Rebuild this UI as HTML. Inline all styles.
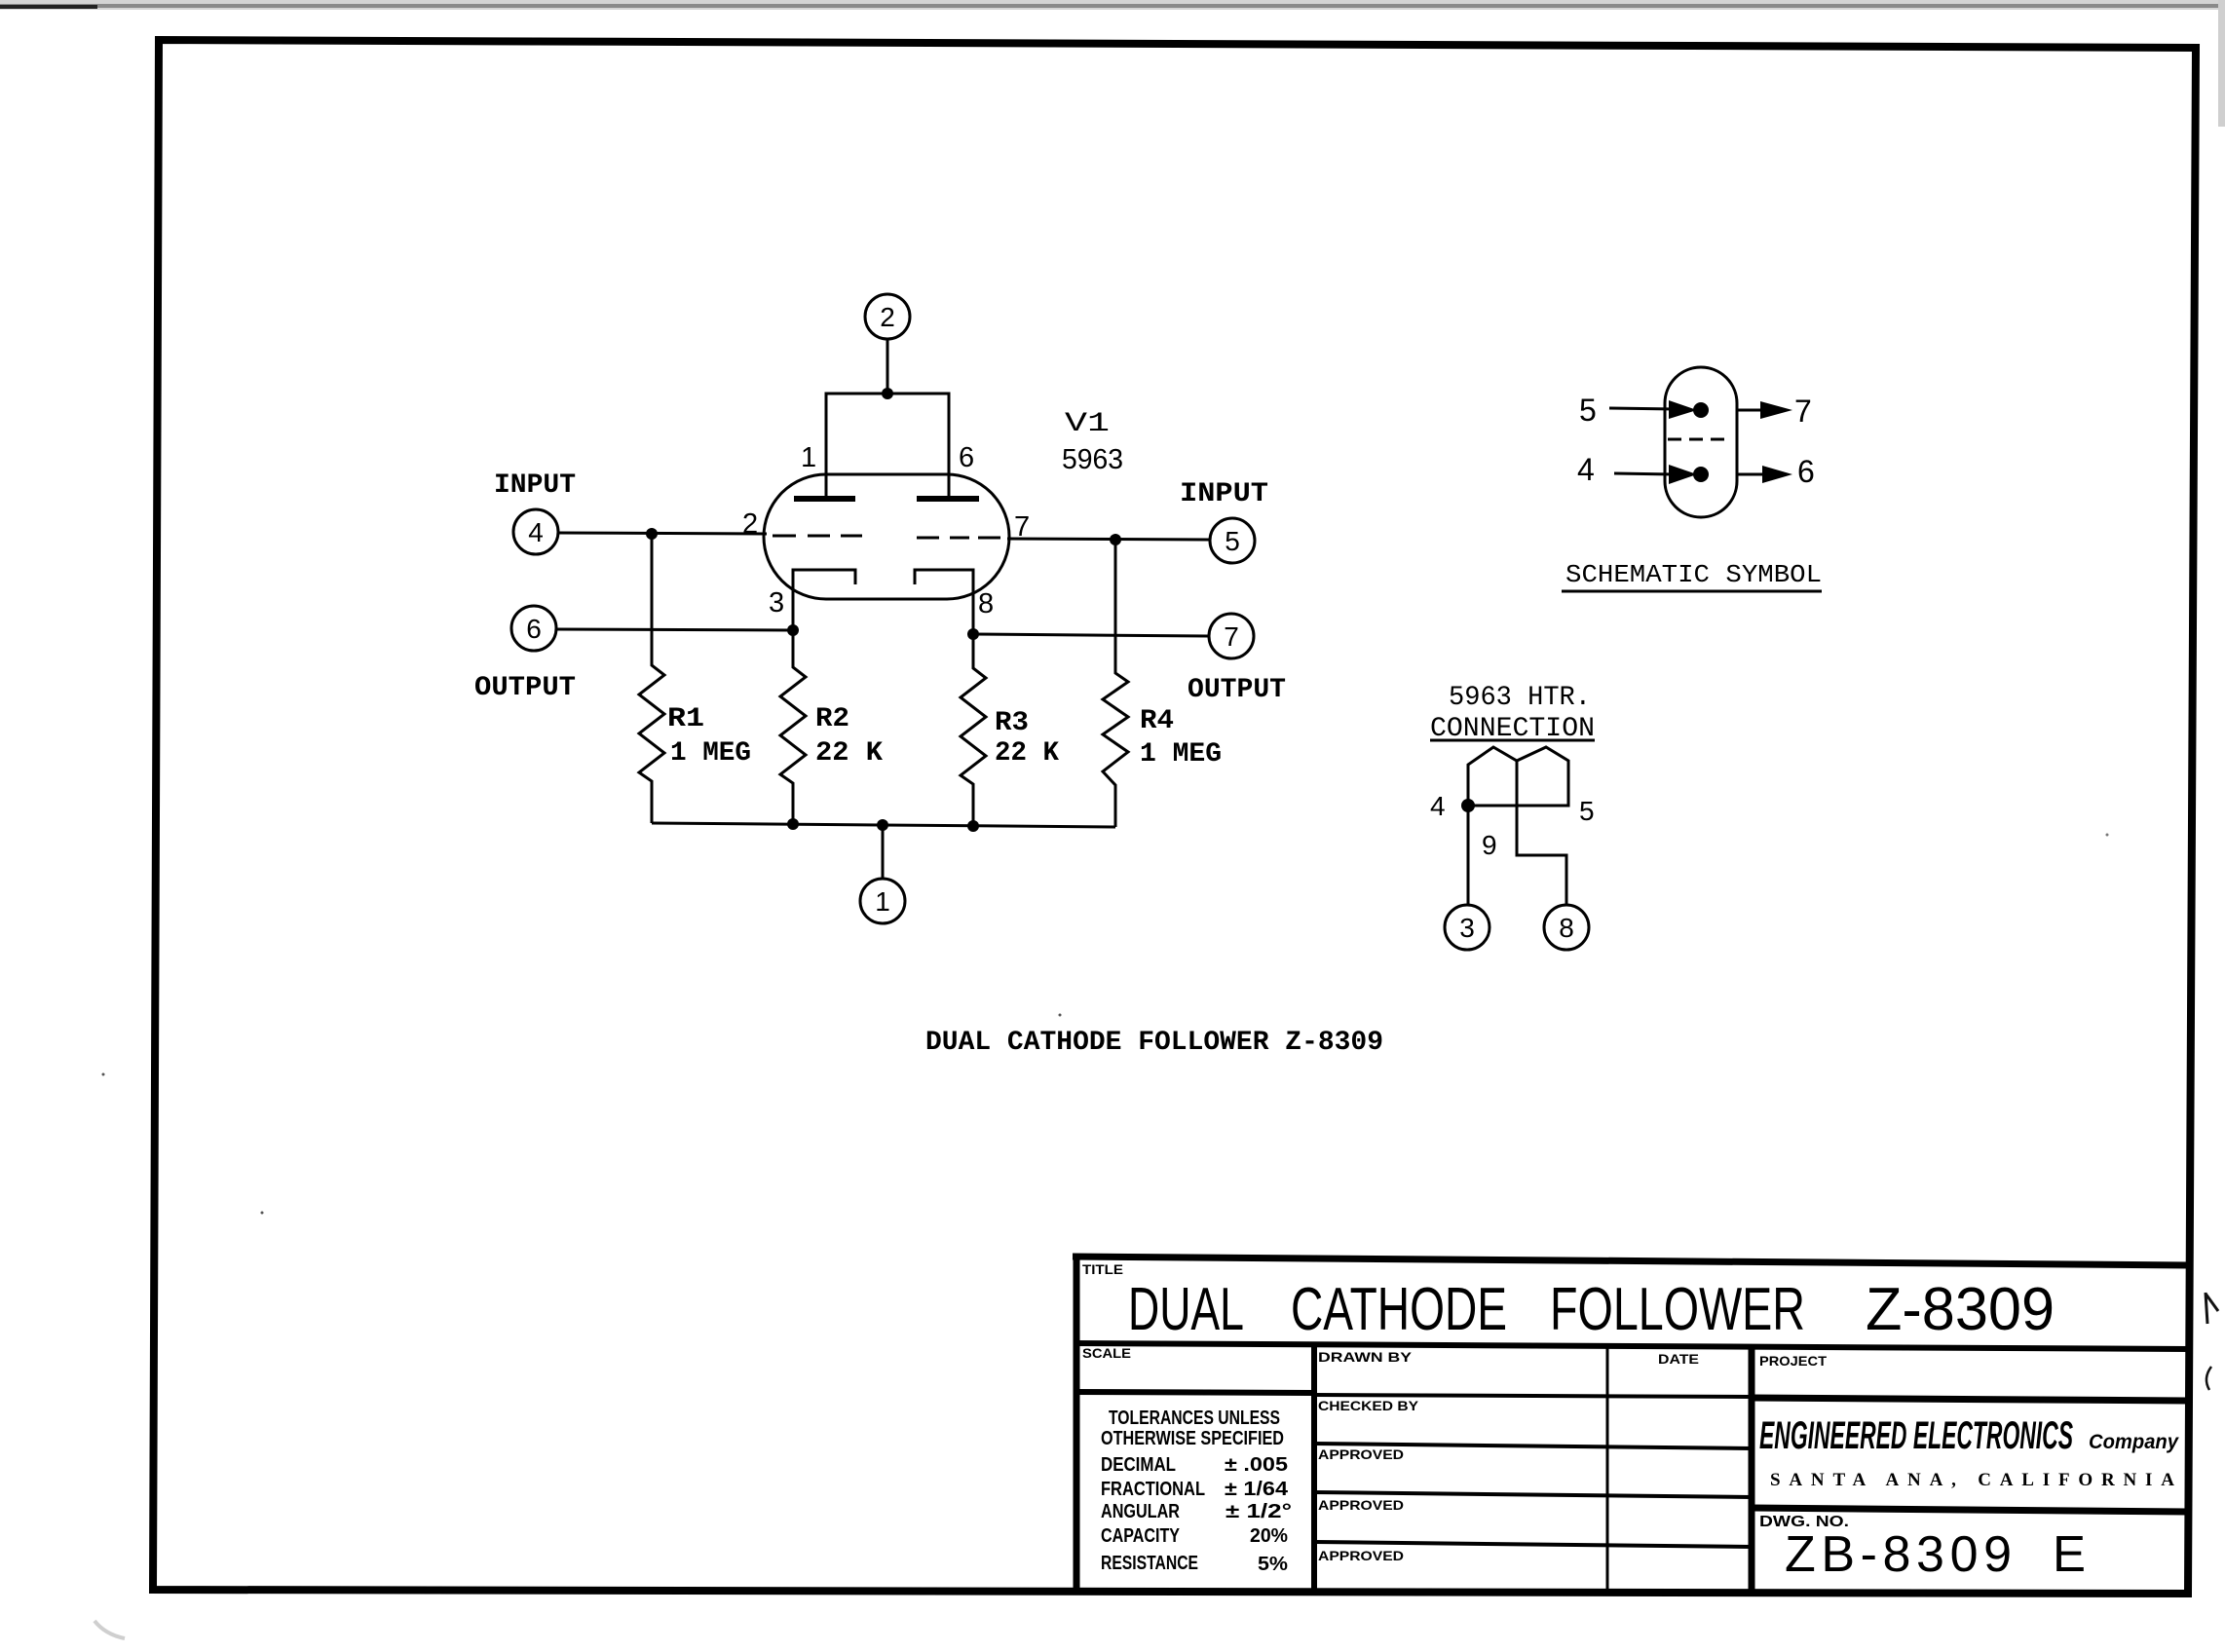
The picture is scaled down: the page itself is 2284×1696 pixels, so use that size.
<!DOCTYPE html>
<html>
<head>
<meta charset="utf-8">
<style>
html,body{margin:0;padding:0;background:#fff;}
svg{display:block;}
.mono{font-family:"Liberation Mono","DejaVu Sans Mono",monospace;}
.sans{font-family:"Liberation Sans","DejaVu Sans",sans-serif;}
.nar{font-family:"Liberation Sans Narrow","Liberation Sans",sans-serif;}
.serif{font-family:"Liberation Serif","DejaVu Serif",serif;}
</style>
</head>
<body>
<svg width="2284" height="1696" viewBox="0 0 2284 1696" xmlns="http://www.w3.org/2000/svg">
<rect width="2284" height="1696" fill="#fff"/>

<!-- scan artifacts -->
<rect x="0" y="0" width="2284" height="10" fill="#d4d4d4"/>
<rect x="0" y="4" width="2284" height="4" fill="#8a8a8a"/>
<rect x="0" y="5" width="100" height="4" fill="#222"/>
<rect x="2277" y="0" width="7" height="130" fill="#cfcfcf"/>
<path d="M97 1664 Q108 1678 128 1682" stroke="#cfcfcf" stroke-width="4" fill="none"/>
<circle cx="106" cy="1103" r="1.5" fill="#555"/>
<circle cx="269" cy="1245" r="1.5" fill="#555"/>
<circle cx="1088" cy="1042" r="1.5" fill="#555"/>
<circle cx="2163" cy="857" r="1.5" fill="#777"/>
<path d="M2264 1327 L2266 1359 M2264 1328 L2277 1346" stroke="#111" stroke-width="3" fill="none"/>
<path d="M2270 1403 Q2261 1415 2268 1427" stroke="#111" stroke-width="2.5" fill="none"/>

<!-- page border -->
<polygon points="163,41 2254,49 2246,1636 157,1632" fill="none" stroke="#000" stroke-width="8" stroke-linejoin="miter"/>

<!-- ================= MAIN SCHEMATIC ================= -->
<g stroke="#000" stroke-width="3" fill="none">
  <circle cx="911" cy="325" r="23"/>
  <line x1="911" y1="348" x2="911" y2="404"/>
  <polyline points="848,512 848,404 974,404 974,512"/>
  <path d="M848 487 H972 A64 64 0 0 1 972 615 H848 A64 64 0 0 1 848 487 Z"/>
  <polyline points="814,648 814,585 878,585 878,600"/>
  <polyline points="939,600 939,585 999,585 999,651"/>
  <line x1="573" y1="547" x2="787" y2="548"/>
  <line x1="1034" y1="553" x2="1242" y2="554"/>
  <circle cx="550" cy="546" r="23"/>
  <circle cx="548" cy="645" r="23"/>
  <line x1="571" y1="646" x2="814" y2="647"/>
  <circle cx="1265" cy="555" r="23"/>
  <circle cx="1264" cy="653" r="23"/>
  <line x1="999" y1="651" x2="1241" y2="653"/>
  <polyline points="669,548 669,683 682,693 656,713 682,733 656,753 682,773 656,793 669,802 669,845"/>
  <polyline points="814,647 814,685 827,695 801,715 827,735 801,755 827,775 801,795 814,804 814,846"/>
  <polyline points="999,651 999,686 1012,696 986,716 1012,736 986,756 1012,776 986,796 999,805 999,848"/>
  <polyline points="1145,554 1145,691 1158,700 1132,718 1158,736 1132,754 1158,772 1132,792 1145,806 1145,849"/>
  <line x1="669" y1="845" x2="1145" y2="849"/>
  <line x1="906" y1="847" x2="906" y2="902"/>
  <circle cx="906" cy="925" r="23"/>
</g>
<rect x="815" y="509" width="63" height="6" fill="#000"/>
<rect x="941" y="509" width="64" height="6" fill="#000"/>
<g stroke="#000" stroke-width="3">
  <line x1="793" y1="550" x2="817" y2="550"/>
  <line x1="829" y1="550" x2="852" y2="550"/>
  <line x1="863" y1="550" x2="885" y2="550"/>
  <line x1="941" y1="552" x2="964" y2="552"/>
  <line x1="975" y1="552" x2="995" y2="552"/>
  <line x1="1004" y1="552" x2="1027" y2="552"/>
</g>
<g fill="#000">
  <circle cx="911" cy="404" r="6"/>
  <circle cx="669" cy="548" r="6"/>
  <circle cx="814" cy="647" r="6"/>
  <circle cx="999" cy="651" r="6"/>
  <circle cx="1145" cy="554" r="6"/>
  <circle cx="814" cy="846" r="6"/>
  <circle cx="906" cy="847" r="6"/>
  <circle cx="999" cy="848" r="6"/>
</g>
<g class="sans" font-size="28" text-anchor="middle" fill="#000">
  <text x="911" y="335">2</text>
  <text x="550" y="556">4</text>
  <text x="548" y="655">6</text>
  <text x="1265" y="565">5</text>
  <text x="1264" y="663">7</text>
  <text x="906" y="935">1</text>
</g>
<g class="sans" font-size="29" fill="#000">
  <text x="822" y="479">1</text>
  <text x="984" y="479">6</text>
  <text x="762" y="547">2</text>
  <text x="1041" y="550">7</text>
  <text x="789" y="628">3</text>
  <text x="1004" y="629">8</text>
</g>
<text class="sans" x="1090" y="481" font-size="29" fill="#000" textLength="63" lengthAdjust="spacingAndGlyphs">5963</text>
<g class="mono" font-size="28" font-weight="bold" fill="#000">
  <text x="507" y="505" textLength="84" lengthAdjust="spacingAndGlyphs">INPUT</text>
  <text x="487" y="713" textLength="104" lengthAdjust="spacingAndGlyphs">OUTPUT</text>
  <text x="1211" y="514" textLength="91" lengthAdjust="spacingAndGlyphs">INPUT</text>
  <text x="1219" y="715" textLength="101" lengthAdjust="spacingAndGlyphs">OUTPUT</text>
  <text x="1093" y="442" font-weight="normal" textLength="46" lengthAdjust="spacingAndGlyphs">V1</text>
  <text x="685" y="745" textLength="38" lengthAdjust="spacingAndGlyphs">R1</text>
  <text x="688" y="780" textLength="83" lengthAdjust="spacingAndGlyphs">1 MEG</text>
  <text x="837" y="745" textLength="35" lengthAdjust="spacingAndGlyphs">R2</text>
  <text x="837" y="780" textLength="69" lengthAdjust="spacingAndGlyphs">22 K</text>
  <text x="1021" y="749" textLength="35" lengthAdjust="spacingAndGlyphs">R3</text>
  <text x="1021" y="780" textLength="66" lengthAdjust="spacingAndGlyphs">22 K</text>
  <text x="1170" y="747" textLength="35" lengthAdjust="spacingAndGlyphs">R4</text>
  <text x="1170" y="781" textLength="84" lengthAdjust="spacingAndGlyphs">1 MEG</text>
  <text x="950" y="1077" textLength="470" lengthAdjust="spacingAndGlyphs">DUAL CATHODE FOLLOWER Z-8309</text>
</g>

<!-- ================= SCHEMATIC SYMBOL ================= -->
<g stroke="#000" stroke-width="3" fill="none">
  <rect x="1709" y="377" width="74" height="154" rx="37" ry="37"/>
  <line x1="1712" y1="451" x2="1778" y2="451" stroke-dasharray="14 8"/>
  <line x1="1652" y1="419" x2="1720" y2="420"/>
  <line x1="1657" y1="486" x2="1718" y2="487"/>
  <line x1="1783" y1="421" x2="1812" y2="421"/>
  <line x1="1783" y1="487" x2="1812" y2="487"/>
  <line x1="1603" y1="607" x2="1870" y2="607"/>
</g>
<g fill="#000">
  <circle cx="1746" cy="421" r="8"/>
  <circle cx="1746" cy="487" r="8"/>
  <polygon points="1713,411 1713,430 1742,421"/>
  <polygon points="1713,477 1713,497 1742,487"/>
  <polygon points="1807,412 1807,430 1840,421"/>
  <polygon points="1809,478 1809,496 1840,487"/>
</g>
<g class="sans" font-size="32" fill="#000">
  <text x="1621" y="432">5</text>
  <text x="1842" y="433">7</text>
  <text x="1619" y="493">4</text>
  <text x="1845" y="495">6</text>
</g>
<text class="mono" x="1607" y="597" font-size="26" fill="#000" textLength="263" lengthAdjust="spacingAndGlyphs">SCHEMATIC SYMBOL</text>

<!-- ================= HTR CONNECTION ================= -->
<g class="mono" font-size="28" fill="#000">
  <text x="1487" y="723" textLength="146" lengthAdjust="spacingAndGlyphs">5963 HTR.</text>
  <text x="1468" y="755" textLength="169" lengthAdjust="spacingAndGlyphs">CONNECTION</text>
</g>
<g stroke="#000" stroke-width="3" fill="none">
  <line x1="1468" y1="760" x2="1637" y2="760"/>
  <polyline points="1507,928 1507,785 1533,767 1557,781 1587,767 1610,781 1610,827 1507,827"/>
  <polyline points="1557,781 1557,878 1608,878 1608,929"/>
  <circle cx="1506" cy="952" r="23"/>
  <circle cx="1608" cy="952" r="23"/>
</g>
<circle cx="1507" cy="827" r="7" fill="#000"/>
<g class="sans" fill="#000">
  <text x="1468" y="837" font-size="28">4</text>
  <text x="1621" y="842" font-size="28">5</text>
  <text x="1521" y="877" font-size="28">9</text>
  <text x="1506" y="962" font-size="28" text-anchor="middle">3</text>
  <text x="1608" y="962" font-size="28" text-anchor="middle">8</text>
</g>

<!-- ================= TITLE BLOCK ================= -->
<g stroke="#000" fill="none">
  <line x1="1101" y1="1290" x2="2249" y2="1299" stroke-width="7"/>
  <line x1="1103" y1="1379" x2="2247" y2="1385" stroke-width="6"/>
  <line x1="1105" y1="1288" x2="1105" y2="1632" stroke-width="7"/>
  <line x1="1349" y1="1380" x2="1349" y2="1632" stroke-width="6"/>
  <line x1="1650" y1="1381" x2="1650" y2="1633" stroke-width="3"/>
  <line x1="1798" y1="1382" x2="1798" y2="1634" stroke-width="7"/>
  <line x1="1103" y1="1429" x2="1349" y2="1430" stroke-width="6"/>
  <line x1="1349" y1="1432" x2="1798" y2="1434" stroke-width="4"/>
  <line x1="1798" y1="1435" x2="2246" y2="1438" stroke-width="7"/>
  <line x1="1349" y1="1482" x2="1798" y2="1487" stroke-width="4"/>
  <line x1="1349" y1="1532" x2="1798" y2="1537" stroke-width="4"/>
  <line x1="1349" y1="1583" x2="1798" y2="1588" stroke-width="4"/>
  <line x1="1798" y1="1548" x2="2246" y2="1552" stroke-width="7"/>
</g>
<g class="nar" font-weight="bold" font-size="14" fill="#000">
  <text x="1111" y="1308" textLength="42" lengthAdjust="spacingAndGlyphs">TITLE</text>
  <text x="1111" y="1394" textLength="50" lengthAdjust="spacingAndGlyphs">SCALE</text>
  <text x="1353" y="1398" textLength="96" lengthAdjust="spacingAndGlyphs">DRAWN BY</text>
  <text x="1702" y="1400" textLength="42" lengthAdjust="spacingAndGlyphs">DATE</text>
  <text x="1806" y="1402" textLength="69" lengthAdjust="spacingAndGlyphs">PROJECT</text>
  <text x="1353" y="1448" textLength="103" lengthAdjust="spacingAndGlyphs">CHECKED BY</text>
  <text x="1353" y="1498" textLength="88" lengthAdjust="spacingAndGlyphs">APPROVED</text>
  <text x="1353" y="1550" textLength="88" lengthAdjust="spacingAndGlyphs">APPROVED</text>
  <text x="1353" y="1602" textLength="88" lengthAdjust="spacingAndGlyphs">APPROVED</text>
  <text x="1806" y="1567" font-size="16" textLength="92" lengthAdjust="spacingAndGlyphs">DWG. NO.</text>
</g>
<g class="sans" font-size="62" fill="#000">
  <text x="1158" y="1365" textLength="119" lengthAdjust="spacingAndGlyphs">DUAL</text>
  <text x="1325" y="1365" textLength="222" lengthAdjust="spacingAndGlyphs">CATHODE</text>
  <text x="1591" y="1365" textLength="262" lengthAdjust="spacingAndGlyphs">FOLLOWER</text>
  <text x="1915" y="1365" textLength="194" lengthAdjust="spacingAndGlyphs">Z-8309</text>
</g>
<g class="sans" font-size="52" fill="#000">
  <text x="1832" y="1613" textLength="233" lengthAdjust="spacing">ZB-8309</text>
  <text x="2107" y="1613" textLength="34" lengthAdjust="spacingAndGlyphs">E</text>
</g>
<text class="nar" x="1806" y="1487" font-size="40" font-weight="bold" font-style="italic" fill="#000" textLength="322" lengthAdjust="spacingAndGlyphs">ENGINEERED ELECTRONICS</text>
<text class="sans" x="2144" y="1487" font-size="21" font-weight="bold" font-style="italic" fill="#000" textLength="92" lengthAdjust="spacingAndGlyphs">Company</text>
<text class="serif" x="1817" y="1525" font-size="19" font-weight="bold" fill="#000" textLength="415" lengthAdjust="spacing">SANTA ANA, CALIFORNIA</text>
<g class="nar" font-weight="bold" font-size="20" fill="#000">
  <text x="1138" y="1462" textLength="176" lengthAdjust="spacingAndGlyphs">TOLERANCES UNLESS</text>
  <text x="1130" y="1483" textLength="188" lengthAdjust="spacingAndGlyphs">OTHERWISE SPECIFIED</text>
  <text x="1130" y="1510" textLength="77" lengthAdjust="spacingAndGlyphs">DECIMAL</text>
  <text x="1257" y="1510" textLength="65" lengthAdjust="spacingAndGlyphs">± .005</text>
  <text x="1130" y="1535" textLength="107" lengthAdjust="spacingAndGlyphs">FRACTIONAL</text>
  <text x="1257" y="1535" textLength="65" lengthAdjust="spacingAndGlyphs">± 1/64</text>
  <text x="1130" y="1558" textLength="81" lengthAdjust="spacingAndGlyphs">ANGULAR</text>
  <text x="1258" y="1558" textLength="68" lengthAdjust="spacingAndGlyphs">± 1/2°</text>
  <text x="1130" y="1583" textLength="81" lengthAdjust="spacingAndGlyphs">CAPACITY</text>
  <text x="1283" y="1583" textLength="39" lengthAdjust="spacingAndGlyphs">20%</text>
  <text x="1130" y="1611" textLength="100" lengthAdjust="spacingAndGlyphs">RESISTANCE</text>
  <text x="1291" y="1612" textLength="31" lengthAdjust="spacingAndGlyphs">5%</text>
</g>
</svg>
</body>
</html>
